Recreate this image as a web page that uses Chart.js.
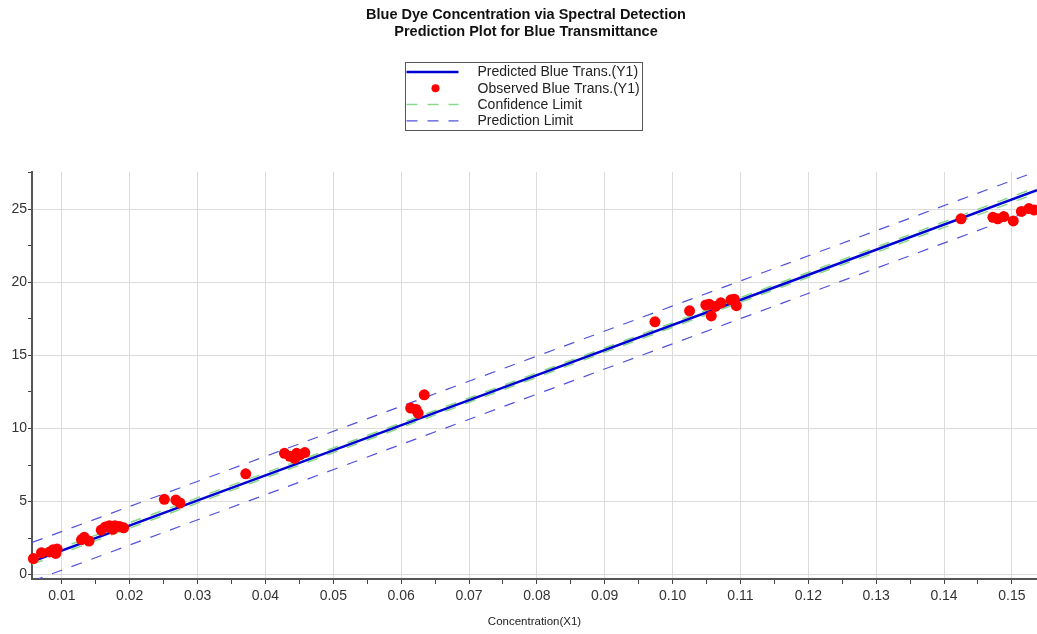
<!DOCTYPE html>
<html>
<head>
<meta charset="utf-8">
<title>Blue Dye Concentration via Spectral Detection</title>
<script src="https://cdn.jsdelivr.net/npm/chart.js@4.4.0/dist/chart.umd.min.js"></script>
<style>
  html, body { margin: 0; padding: 0; background: #fff; }
  #wrap { width: 1037px; height: 634px; }
</style>
</head>
<body>
<div id="wrap"><canvas id="predChart" width="1037" height="634"></canvas></div>
<script>
// observed points (concentration, blue transmittance)
const obsX = [0.0058, 0.0070, 0.0082, 0.0087, 0.0091, 0.0093,
              0.0129, 0.0133, 0.0140,
              0.0158, 0.0164, 0.0170, 0.0175, 0.0178, 0.0185, 0.0191,
              0.0251, 0.0268, 0.0274,
              0.0371,
              0.0428, 0.0436, 0.0443, 0.0446, 0.0451, 0.0458,
              0.0614, 0.0622, 0.0625, 0.0634,
              0.0974, 0.1025, 0.1049, 0.1054, 0.1057, 0.1063, 0.1071, 0.1086, 0.1091, 0.1094,
              0.1425, 0.1472, 0.1479, 0.1488, 0.1502, 0.1514, 0.1525, 0.1533];
const obsY = [1.1, 1.5, 1.55, 1.7, 1.45, 1.75,
              2.4, 2.55, 2.3,
              3.05, 3.25, 3.35, 3.1, 3.35, 3.3, 3.2,
              5.15, 5.1, 4.9,
              6.9,
              8.3, 8.1, 7.95, 8.3, 8.2, 8.35,
              11.4, 11.3, 11.05, 12.3,
              17.3, 18.05, 18.45, 18.5, 17.7, 18.35, 18.6, 18.8, 18.85, 18.4,
              24.35, 24.45, 24.35, 24.5, 24.2, 24.85, 25.05, 24.95];

// fitted line and limits, read at left edge, middle and right edge
const lineX = [0.0056, 0.08, 0.1537];
const predictedY = [0.9, 13.65, 26.3];
const confUpperY = [1.1, 13.8, 26.5];
const confLowerY = [0.7, 13.5, 26.1];
const predUpperY = [2.2, 14.95, 27.6];
const predLowerY = [-0.45, 12.35, 25.05];

const xTickLabels = ['0.01', '0.02', '0.03', '0.04', '0.05', '0.06', '0.07', '0.08',
                     '0.09', '0.10', '0.11', '0.12', '0.13', '0.14', '0.15'];
const yTickLabels = ['0', '5', '10', '15', '20', '25'];

const FONT = "'Liberation Sans', Arial, sans-serif";
const BLUE = '#0000d4';
const RED = '#ff0000';
const GREEN = '#8ad88a';
const DASH_BLUE = '#5252dc';

const toPoints = (xs, ys) => xs.map((x, i) => ({ x: x, y: ys[i] }));

function xLabel(v) {
    const k = Math.round(v * 1000);
    if (k % 10 !== 0) return '';
    const s = (k / 1000).toFixed(2);
    return xTickLabels.includes(s) ? s : '';
}
function yLabel(v) {
    const k = Math.round(v * 10);
    if (k % 50 !== 0) return '';
    const s = String(k / 10);
    return yTickLabels.includes(s) ? s : '';
}

const legendItems = [
    { text: 'Predicted Blue Trans.(Y1)', kind: 'line', color: BLUE, dash: [], width: 2.5 },
    { text: 'Observed Blue Trans.(Y1)', kind: 'dot', color: RED },
    { text: 'Confidence Limit', kind: 'line', color: GREEN, dash: [11, 10], width: 1.5 },
    { text: 'Prediction Limit', kind: 'line', color: DASH_BLUE, dash: [11, 10], width: 1.2 }
];

// boxed legend under the title, and the title nudged right like the original
const boxLegend = {
    id: 'boxLegend',
    afterLayout(chart) {
        if (chart.titleBlock) chart.titleBlock.left = 15;
    },
    afterDraw(chart) {
        const ctx = chart.ctx;
        const left = 405.5, top = 62.5, w = 237, h = 68;
        ctx.save();
        ctx.strokeStyle = '#555';
        ctx.lineWidth = 1;
        ctx.strokeRect(left, top, w, h);
        ctx.font = '14px ' + FONT;
        ctx.textBaseline = 'middle';
        legendItems.forEach((item, i) => {
            const y = top + 9.5 + i * 16.3;
            if (item.kind === 'dot') {
                ctx.beginPath();
                ctx.fillStyle = item.color;
                ctx.arc(left + 30, y, 4, 0, Math.PI * 2);
                ctx.fill();
            } else {
                ctx.beginPath();
                ctx.strokeStyle = item.color;
                ctx.lineWidth = item.width;
                ctx.setLineDash(item.dash);
                ctx.moveTo(left + 1, y);
                ctx.lineTo(left + 53, y);
                ctx.stroke();
                ctx.setLineDash([]);
            }
            ctx.fillStyle = '#222';
            ctx.fillText(item.text, left + 72, y + 0.5);
        });
        ctx.restore();
    }
};

const lineSet = (label, ys, color, width, dash, order) => ({
    label: label,
    data: toPoints(lineX, ys),
    showLine: true,
    borderColor: color,
    borderWidth: width,
    borderDash: dash,
    pointRadius: 0,
    fill: false,
    tension: 0.4,
    order: order
});

new Chart(document.getElementById('predChart'), {
    type: 'scatter',
    data: {
        datasets: [
            {
                label: 'Observed Blue Trans.(Y1)',
                data: toPoints(obsX, obsY),
                backgroundColor: RED,
                borderWidth: 0,
                pointRadius: 5.5,
                clip: false,
                order: 0
            },
            lineSet('Predicted Blue Trans.(Y1)', predictedY, BLUE, 2.5, [], 1),
            lineSet('Confidence Limit', confUpperY, GREEN, 1.5, [11, 10], 2),
            lineSet('Confidence Limit', confLowerY, GREEN, 1.5, [11, 10], 2),
            lineSet('Prediction Limit', predUpperY, DASH_BLUE, 1.2, [11, 10], 3),
            lineSet('Prediction Limit', predLowerY, DASH_BLUE, 1.2, [11, 10], 3)
        ]
    },
    options: {
        responsive: false,
        animation: false,
        events: [],
        layout: { autoPadding: false, padding: 0 },
        plugins: {
            legend: { display: false },
            tooltip: { enabled: false },
            title: {
                display: true,
                text: ['Blue Dye Concentration via Spectral Detection',
                       'Prediction Plot for Blue Transmittance'],
                color: '#111',
                font: { family: FONT, size: 14.5, weight: 'bold', lineHeight: 1.2 },
                padding: { top: 6, bottom: 131.2 }
            }
        },
        scales: {
            x: {
                type: 'linear',
                min: 0.0056,
                max: 0.1537,
                afterFit(scale) {
                    scale.height = 55;
                    scale.paddingLeft = 0;
                    scale.paddingRight = 0;
                },
                border: { display: true, color: '#555', width: 2 },
                grid: {
                    color: (c) => (c.tick && xLabel(c.tick.value) !== '') ? '#dcdcdc' : 'rgba(0,0,0,0)',
                    tickColor: '#444',
                    tickLength: 5,
                    lineWidth: 1
                },
                ticks: {
                    stepSize: 0.005,
                    includeBounds: false,
                    autoSkip: false,
                    maxRotation: 0,
                    padding: 4,
                    color: '#333',
                    font: { family: FONT, size: 14 },
                    callback: (v) => xLabel(v)
                },
                title: {
                    display: true,
                    text: 'Concentration(X1)',
                    color: '#222',
                    font: { family: FONT, size: 11.5 },
                    padding: { top: 0, bottom: 5 }
                }
            },
            y: {
                type: 'linear',
                min: -0.3,
                max: 27.55,
                afterFit(scale) { scale.width = 32; },
                border: { display: true, color: '#555', width: 2 },
                grid: {
                    color: (c) => (c.tick && yLabel(c.tick.value) !== '') ? '#dcdcdc' : 'rgba(0,0,0,0)',
                    tickColor: '#444',
                    tickLength: 4,
                    lineWidth: 1
                },
                ticks: {
                    stepSize: 2.5,
                    includeBounds: false,
                    autoSkip: false,
                    padding: 1,
                    color: '#333',
                    font: { family: FONT, size: 14 },
                    callback: (v) => yLabel(v)
                }
            }
        }
    },
    plugins: [boxLegend]
});
</script>
</body>
</html>
